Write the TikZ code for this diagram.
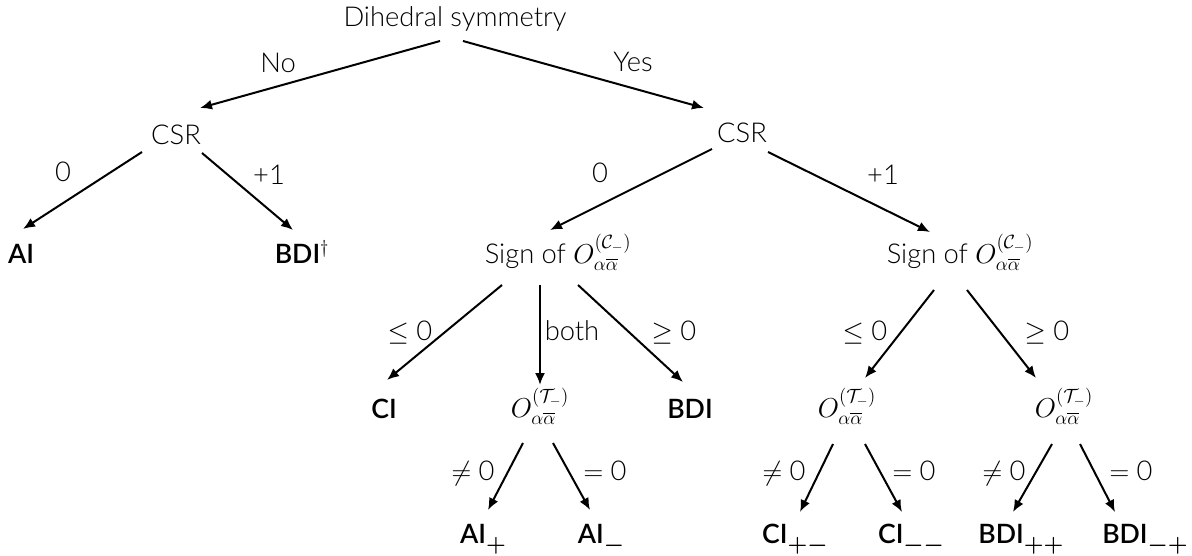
\RequirePackage{fix-cm}
\documentclass[tikz,border=0pt]{standalone}
\usepackage{amsmath}
\usepackage{fontspec}
\setmainfont{Lato}[UprightFont={* Light},BoldFont={* Semibold}]
\usetikzlibrary{arrows.meta,calc}
\tikzset{
  txt/.style={anchor=base,inner sep=0pt,font=\fontsize{20.5}{24}\selectfont},
  leaf/.style={anchor=base,inner sep=0pt,font=\fontsize{20}{24}\selectfont\bfseries},
  lbl/.style={anchor=base,inner sep=0pt,font=\fontsize{20.5}{24}\selectfont},
  arr/.style={line width=1.5pt,-{Latex[length=9pt,width=7.5pt]}}
}
\newcommand{\OC}{$O^{(\mathcal{C}_-)}_{\alpha\overline{\alpha}}$}
\newcommand{\OT}{$O^{(\mathcal{T}_-)}_{\alpha\overline{\alpha}}$}
\newcommand{\lsub}[1]{\raisebox{-6.5pt}{\scalebox{0.85}{$\boldsymbol{#1}$}}}
\begin{document}
\begin{tikzpicture}[x=0.75pt,y=-0.75pt]
\useasboundingbox (0,0) rectangle (1192,556);
% nodes
\node[txt] (root) at (455,27) {Dihedral symmetry};
\node[txt] (csrL) at (176,145) {CSR};
\node[txt] (csrR) at (742,143) {CSR};
\node[leaf] (ai) at (21,263) {AI};
\node[leaf] (bdid) at (302,263) {BDI$^\dagger$};
\node[txt] (signL) at (558,263) {Sign of \OC};
\node[txt] (signR) at (960,263) {Sign of \OC};
\node[leaf] (ci) at (384,418) {CI};
\node[txt] (otM) at (540,417) {\OT};
\node[leaf] (bdi) at (690,418) {BDI};
\node[txt] (otL) at (847,417) {\OT};
\node[txt] (otR) at (1064,417) {\OT};
\node[leaf] (aip) at (483,543) {AI\lsub{+}};
\node[leaf] (aim) at (601,543) {AI\lsub{-}};
\node[leaf] (cipm) at (795,543) {CI\lsub{+-}};
\node[leaf] (cimm) at (911,543) {CI\lsub{--}};
\node[leaf] (bdipp) at (1021,543) {BDI\lsub{++}};
\node[leaf] (bdimp) at (1145,543) {BDI\lsub{-+}};
% labels
\node[lbl] (lNo) at (278,73) {No};
\node[lbl] (lYes) at (633,72) {Yes};
\node[lbl] (l0L) at (63,182) {0};
\node[lbl] (l1L) at (269,185) {+1};
\node[lbl] (l0R) at (600,183) {0};
\node[lbl] (l1R) at (883,185) {+1};
\node[lbl] (lleL) at (410,340) {$\leq$ 0};
\node[lbl] (lboth) at (572,340) {both};
\node[lbl] (lgeL) at (674,340) {$\geq$ 0};
\node[lbl] (lleR) at (865,340) {$\leq$ 0};
\node[lbl] (lgeR) at (1047,340) {$\geq$ 0};
\node[lbl] (lne1) at (473,480) {$\neq$ 0};
\node[lbl] (leq1) at (605,480) {$=$ 0};
\node[lbl] (lne2) at (784,480) {$\neq$ 0};
\node[lbl] (leq2) at (914,480) {$=$ 0};
\node[lbl] (lne3) at (1004,480) {$\neq$ 0};
\node[lbl] (leq3) at (1131,480) {$=$ 0};
% connectors
\draw[arr] ($(root.base)+(-15,14)$) -- ($(csrL.base)+(24,-37)$);
\draw[arr] ($(root.base)+(8,14)$) -- ($(csrR.base)+(-38,-35)$);
\draw[arr] ($(csrL.base)+(-34,7)$) -- ($(ai.base)+(2,-34)$);
\draw[arr] ($(csrL.base)+(26,8)$) -- ($(bdid.base)+(-9,-33)$);
\draw[arr] ($(csrR.base)+(-30,6)$) -- ($(signL.base)+(-8,-33)$);
\draw[arr] ($(csrR.base)+(26,9)$) -- ($(signR.base)+(-30,-31)$);
\draw[arr] ($(signL.base)+(-56,22)$) -- ($(ci.base)+(3,-38)$);
\draw[arr] ($(signL.base)+(-18,22)$) -- ($(otM.base)+(0,-32)$);
\draw[arr] ($(signL.base)+(20,22)$) -- ($(bdi.base)+(-7,-36)$);
\draw[arr] ($(signR.base)+(-26,27)$) -- ($(otL.base)+(18,-39)$);
\draw[arr] ($(signR.base)+(7,27)$) -- ($(otR.base)+(-28,-39)$);
\draw[arr] ($(otM.base)+(-17,26)$) -- ($(aip.base)+(5,-33)$);
\draw[arr] ($(otM.base)+(13,26)$) -- ($(aim.base)+(-11,-33)$);
\draw[arr] ($(otL.base)+(-14,27)$) -- ($(cipm.base)+(5,-31)$);
\draw[arr] ($(otL.base)+(18,27)$) -- ($(cimm.base)+(-9,-31)$);
\draw[arr] ($(otR.base)+(-12,27)$) -- ($(bdipp.base)+(-8,-31)$);
\draw[arr] ($(otR.base)+(16,27)$) -- ($(bdimp.base)+(-30,-31)$);
\end{tikzpicture}
\end{document}
